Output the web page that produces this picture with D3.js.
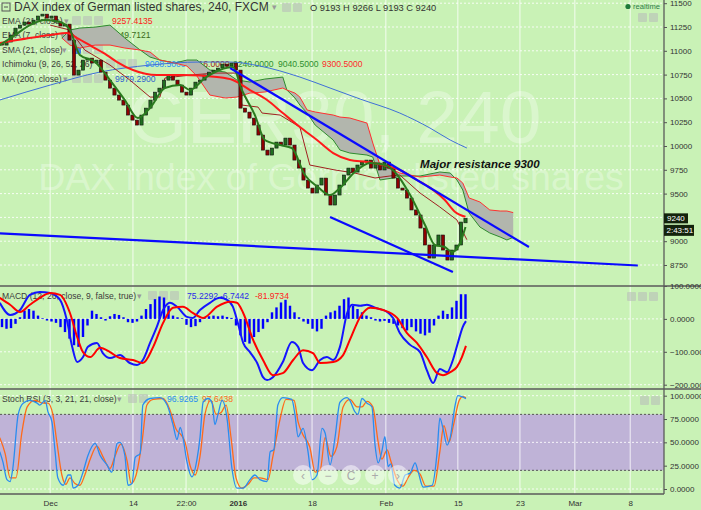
<!DOCTYPE html>
<html><head><meta charset="utf-8">
<script src="https://cdn.jsdelivr.net/npm/d3@7/dist/d3.min.js"></script>
<style>
html,body{margin:0;padding:0;background:#c9f2b6;overflow:hidden;}
svg{display:block;font-family:"Liberation Sans",Arial,sans-serif;}
</style></head><body>
<svg id="chart" width="701" height="510"></svg>
<script>
// ---------------- DATA ----------------
const closes = [11060,11092,11165,11238,11270,11302,11280,11322,11365,11385,
11343,11365,11302,11260,11280,11112,10745,10797,10902,10923,
10871,10902,10776,10692,10608,10535,10482,10430,10325,10272,
10220,10325,10398,10482,10566,10608,10692,10745,10692,10640,
10566,10535,10608,10671,10692,10745,10776,10797,10818,10860,
10839,10871,10797,10398,10356,10293,10220,10115,9957,9905,
9978,10041,10010,10083,10010,9852,9768,9642,9558,9506,
9590,9663,9485,9380,9485,9590,9695,9768,9726,9800,
9831,9852,9768,9821,9748,9831,9768,9663,9558,9537,
9453,9328,9275,9138,8960,8823,8960,9065,8907,8802,
8907,8960,9201,9240];
const opens = [11075,11060,11092,11165,11238,11270,11302,11280,11322,11365,
11385,11343,11365,11302,11260,11280,11112,10745,10797,10902,
10923,10871,10902,10776,10692,10608,10535,10482,10430,10325,
10272,10220,10325,10398,10482,10566,10608,10692,10745,10692,
10640,10566,10535,10608,10671,10692,10745,10776,10797,10818,
10860,10839,10871,10797,10398,10356,10293,10220,10115,9957,
9905,9978,10041,10010,10083,10010,9852,9768,9642,9558,
9506,9590,9663,9485,9380,9485,9590,9695,9768,9726,
9800,9831,9852,9768,9821,9748,9831,9768,9663,9558,
9537,9453,9328,9275,9138,8960,8823,8960,9065,8907,
8802,8907,8960,9193];

const timeTickLabels = ["Dec","14","22:00","2016","18","Feb","15","23","Mar","8"];
const timeTickIndex  = [10.7,29.1,40.9,52.4,68.9,85.3,101.3,115.1,127.3,139.6];
const priceGrid = [8750,9000,9250,9500,9750,10000,10250,10500,10750,11000,11250,11500];
const priceTicks = [8750,9000,9500,9750,10000,10250,10500,10750,11000,11250,11500];
const macdTicks = [100,0,-100,-200];
const rsiTicks = [100,75,50,25,0];

// [bar index, value]
const ema21 = [[-0.5,11081],[10.7,11165],[14.4,11186],[16.7,11134],[20.2,11039],[23.3,10955],[25.6,10882],[29.1,10798],[34.4,10745],[40.2,10745],[47.8,10724],[51.3,10693],[55.1,10588],[58.9,10483],[62.4,10346],[66.2,10199],[70,10063],[73.6,9926],[77.3,9853],[81.1,9832],[84.7,9800],[88.4,9748],[92.2,9643],[95.8,9538],[98.4,9433],[100.7,9307],[103,9257]];
const ema7 = [[-0.5,11060],[2.9,11165],[6.2,11270],[9.6,11323],[12.9,11302],[15.1,11218],[17.3,10955],[20.7,10882],[24,10693],[27.3,10483],[30.2,10294],[32.9,10399],[36.2,10609],[39.6,10640],[41.8,10588],[45.1,10714],[48.4,10798],[51.3,10829],[53.3,10588],[56.2,10325],[58.4,10063],[61.8,10010],[64.4,9979],[67.3,9695],[70.2,9569],[72.9,9485],[75.1,9559],[78.4,9727],[81.8,9821],[85.1,9800],[87.3,9727],[90.7,9485],[94,9170],[96.2,8960],[98.4,8939],[100,8887],[101.8,8981],[103,9150]];
const ma200 = [[-0.5,10483],[10.7,10640],[21.8,10777],[32.9,10850],[44,10882],[50.7,10882],[57.3,10840],[66.2,10724],[72.9,10609],[79.6,10493],[88.4,10346],[95.1,10189],[99.6,10063],[103.3,9979]];
const baseLine = [[10.7,11270],[15.1,11218],[18.4,11008],[24,10850],[28.4,10693],[32.9,10514],[35.1,10514],[36.2,10714],[41.8,10745],[47.3,10766],[52.4,10766],[53.3,10430],[56.9,10409],[57.8,10346],[61.8,10325],[66.2,10199],[68.4,9800],[74,9748],[78.4,9716],[82.9,9664],[86.2,9685],[88.4,9695],[92.9,9506],[97.3,9359],[101.1,9223],[103.3,9016]];
const cloudT = [13.3,15.1,17.3,20.7,24,27.3,30.7,32.9,35.1,38.4,41.1,43.3,46.2,49.6,52.2,55.1,58.4,62.4,63.3,65.1,66.2,67.8,69.6,73.6,75.1,77.3,81.1,82.4,84,86.9,88.4,92.9,97.3,99.6,101.1,102.4,103.8,106.2,108.4,110.7,112.2,113.6];
const spanA = [11134,11218,11239,11249,11270,11134,11008,10934,10903,10871,10903,10903,10798,10777,10693,10672,10703,10724,10588,10504,10430,10346,10220,10063,9958,9926,9905,9884,9643,9664,9685,9685,9727,9716,9643,9538,9296,9149,9086,9044,9013,9040.5];
const spanB = [11134,11060,11029,11060,11060,11029,11008,10987,10903,10871,10840,10735,10535,10504,10514,10556,10567,10609,10588,10556,10514,10378,10357,10325,10304,10294,10241,10031,9800,9748,9716,9674,9695,9674,9664,9611,9454,9412,9328,9317,9317,9300.5];
const trendStart = [[50.7,10818],[72.9,9254],[-0.5,9083]];
const trendEnd   = [[117.1,8939],[100.2,8676],[141.3,8745]];

const macdLine = [[-0.5,49],[1.8,12],[4,27],[6.2,73],[8.4,82],[10.7,79],[12.9,58],[14.4,-3],[15.6,-85],[16.7,-131],[18,-116],[19.1,-85],[21.1,-73],[22.4,-104],[24,-119],[26.2,-110],[28.4,-134],[30,-140],[31.3,-125],[32.9,-73],[34.4,-24],[35.8,27],[37.3,49],[38.9,37],[41.1,6],[42.4,3],[44,27],[46.2,49],[48.4,64],[50,58],[51.3,37],[52.4,-12],[53.6,-73],[55.1,-101],[56.7,-134],[58,-177],[58.9,-186],[60.2,-177],[62.4,-131],[64.4,-70],[65.8,-85],[66.9,-134],[68.9,-156],[70.7,-125],[72.2,-116],[73.6,-125],[75.1,-85],[76.7,18],[77.8,43],[79.6,40],[81.1,43],[82.9,34],[85.6,21],[86.9,3],[88.4,-43],[90.7,-79],[92.9,-101],[94.4,-156],[95.8,-195],[97.3,-152],[98.9,-162],[100.2,-125],[101.3,-73],[102.4,-24],[103.1,-6.7]];
const signalLine = [[-0.5,64],[1.8,43],[4,21],[6.2,43],[8.4,64],[10.7,79],[12.9,73],[15.1,18],[16.7,-55],[18,-101],[19.6,-116],[21.8,-88],[24,-101],[26.2,-119],[29.1,-125],[31.3,-134],[33.6,-85],[35.8,-12],[38,34],[40.2,37],[42.4,18],[44.7,3],[47.8,37],[50.7,52],[52.2,49],[53.6,18],[55.8,-64],[58,-125],[60.2,-171],[62.4,-165],[64.7,-125],[66.9,-95],[69.1,-104],[70.7,-134],[73.6,-131],[75.8,-110],[77.3,-64],[79.6,6],[81.8,34],[84.7,27],[87.8,3],[90,-43],[92.2,-73],[94.4,-116],[96.7,-165],[98,-171],[99.6,-162],[101.1,-146],[102.2,-116],[103.1,-82]];
const macdHist = [-25,-30,-28,-15,5,25,30,25,10,2,
-5,-8,-12,-25,-40,-60,-80,-85,-55,-20,
25,15,5,-5,8,15,12,5,-10,-12,
-8,10,30,45,60,68,65,40,10,5,
2,-18,-25,-22,-10,5,8,10,8,10,
6,3,-20,-50,-70,-75,-55,-40,-30,-10,
20,35,50,58,40,20,5,-8,-15,-30,
-38,-30,10,20,25,40,60,65,40,30,
20,10,5,-5,-8,-6,-12,-15,-20,-28,
-35,-25,-38,-45,-50,-42,-20,10,25,15,
35,55,75,75];

const stochK = [[-0.5,40],[0.2,29],[1.1,10],[1.8,8],[2.4,22],[3.6,80],[4.7,92],[6.2,95],[7.8,92],[8.4,90],[9.6,95],[10.2,83],[11.1,72],[11.8,40],[12.4,12],[13.6,4],[14.7,15],[15.3,15],[15.8,1],[16.9,4],[18,18],[19.1,36],[20.7,49],[21.8,36],[23.3,26],[24.4,18],[25.6,49],[26.2,50],[27.3,36],[28,4],[28.9,6],[29.6,34],[30.7,38],[31.3,90],[32.9,97],[35.1,98],[36.7,90],[38,69],[38.9,53],[39.6,66],[40.2,56],[41.1,29],[42.2,13],[43.3,31],[44,55],[44.7,93],[45.8,97],[46.7,92],[47.3,69],[48,80],[48.9,95],[50,76],[51.1,22],[52.2,1],[53.6,1],[55.1,10],[56.2,15],[57.3,10],[58.9,8],[59.6,40],[60.4,42],[61.3,90],[62.4,98],[64.4,96],[65.1,80],[65.8,56],[66.9,65],[68,40],[68.9,10],[70,15],[71.1,65],[71.8,60],[72.9,26],[74,55],[75.1,93],[76.7,98],[77.3,95],[78.4,83],[79.1,80],[80,97],[81.1,92],[82.2,88],[82.9,47],[83.6,28],[84.4,40],[85.1,56],[85.8,24],[86.4,27],[87.3,4],[88.4,1],[89.6,15],[90.7,17],[91.8,28],[92.4,20],[93.6,2],[95.6,4],[96.7,40],[97.3,76],[98,65],[98.9,47],[99.6,55],[100.7,90],[101.3,100],[102.2,99],[103.1,96.93]];
const stochD = [[-0.5,55],[0.7,38],[1.8,12],[3.1,12],[4.4,60],[5.6,88],[7.3,95],[9.1,92],[10.2,92],[11.3,80],[12.2,50],[13.3,15],[14.2,5],[15.1,12],[16.2,6],[17.3,4],[18.4,15],[19.6,32],[21.1,46],[22.4,35],[24,22],[25.1,35],[26.4,48],[27.8,30],[28.7,6],[29.8,15],[31.1,50],[32.2,90],[33.6,96],[35.8,97],[37.3,85],[38.7,64],[39.8,58],[40.7,50],[41.8,25],[42.9,15],[44,35],[45.1,80],[46.4,95],[47.6,80],[48.7,82],[49.8,90],[50.9,55],[52,12],[53.3,1],[54.7,5],[56,12],[57.3,12],[59.1,10],[60.2,35],[61.8,75],[63.1,96],[64.9,95],[65.8,72],[66.9,58],[68.4,45],[69.6,18],[70.7,20],[71.8,55],[73.1,35],[74.4,45],[75.8,88],[77.3,96],[78.9,88],[80,88],[81.1,94],[82.4,88],[83.6,50],[84.4,32],[85.6,42],[86.4,30],[87.8,10],[89.1,3],[90.2,12],[91.6,20],[92.9,16],[94.2,3],[96,3],[97.3,40],[98.2,68],[99.3,50],[100.4,70],[101.6,95],[102.4,99],[103.1,97.64]];

// ---------------- LAYOUT ----------------
const W = 701, H = 510, AX = 664;
const MAIN_B = 286, MACD_B = 389, RSI_B = 494;
const svg = d3.select("#chart");
const xS = d3.scaleLinear().domain([0, 147]).range([2, 663.5]);
const yP = d3.scaleLinear().domain([8750, 11500]).range([265, 3.2]);
const yM = d3.scaleLinear().domain([-200, 100]).range([384.7, 286]);
const yR = d3.scaleLinear().domain([0, 100]).range([489, 395.7]);

svg.append("rect").attr("width", W).attr("height", H).attr("fill", "#c9f2b6");
const defs = svg.append("defs");
defs.append("clipPath").attr("id", "cMain").append("rect").attr("x", 0).attr("y", 0).attr("width", AX).attr("height", MAIN_B);
defs.append("clipPath").attr("id", "cMacd").append("rect").attr("x", 0).attr("y", MAIN_B).attr("width", AX).attr("height", MACD_B - MAIN_B);
defs.append("clipPath").attr("id", "cRsi").append("rect").attr("x", 0).attr("y", MACD_B).attr("width", AX).attr("height", RSI_B - MACD_B);

// RSI band
svg.append("rect").attr("x", 0).attr("width", AX).attr("y", yR(80)).attr("height", yR(20) - yR(80)).attr("fill", "#bfb3d7");

// vertical grid
svg.append("g").selectAll("line").data(timeTickIndex).join("line")
  .attr("x1", d => xS(d)).attr("x2", d => xS(d)).attr("y1", 0).attr("y2", RSI_B)
  .attr("stroke", "rgba(255,255,255,0.8)").attr("stroke-width", 1);
// horizontal grids
const hg = svg.append("g").attr("stroke", "rgba(255,255,255,0.85)").attr("stroke-dasharray", "2,2");
hg.selectAll(".p").data(priceGrid).join("line").attr("class","p").attr("x1", 0).attr("x2", AX).attr("y1", d => yP(d)).attr("y2", d => yP(d));
hg.selectAll(".m").data(macdTicks.slice(1)).join("line").attr("class","m").attr("x1", 0).attr("x2", AX).attr("y1", d => yM(d)).attr("y2", d => yM(d));
hg.selectAll(".r").data([100, 50, 0]).join("line").attr("class","r").attr("x1", 0).attr("x2", AX).attr("y1", d => yR(d)).attr("y2", d => yR(d));
svg.append("g").selectAll("line").data([80, 20]).join("line")
  .attr("x1", 0).attr("x2", AX).attr("y1", d => yR(d)).attr("y2", d => yR(d))
  .attr("stroke", "#555").attr("stroke-dasharray", "2,2");

// watermark
const wm = svg.append("g").attr("fill", "rgba(255,255,255,0.32)").attr("text-anchor", "middle").attr("clip-path", "url(#cMain)");
wm.append("text").attr("x", 335).attr("y", 143).attr("font-size", 75).text("GER30, 240");
wm.append("text").attr("x", 331).attr("y", 190).attr("font-size", 37.5).text("DAX index of German listed shares");

// ---------- legends ----------
function icons(g, x, y, n, first) {
  for (let k = 0; k < n; k++) {
    g.append("rect").attr("x", x + k * 11).attr("y", y).attr("width", 9).attr("height", 9).attr("rx", 1)
      .attr("fill", (k === 0 && first) ? first : "rgba(185,190,185,0.6)");
  }
}
const lg = svg.append("g").attr("font-size", 8.6).attr("fill", "#3c3c3c");
lg.append("rect").attr("x", 2).attr("y", 3).attr("width", 8).attr("height", 8).attr("fill", "none").attr("stroke", "#555");
lg.append("line").attr("x1", 4).attr("x2", 8).attr("y1", 7).attr("y2", 7).attr("stroke", "#555");
lg.append("text").attr("x", 14).attr("y", 11).attr("font-size", 12).attr("fill", "#333").text("DAX index of German listed shares, 240, FXCM");
lg.append("text").attr("x", 272).attr("y", 10).attr("fill", "#999").text("▾");
icons(lg, 282, 3, 2);
lg.append("text").attr("x", 310).attr("y", 11).attr("font-size", 9.3).attr("fill", "#333").text("O 9193 H 9266 L 9193 C 9240");

const rows = [
  {name: "EMA (21, close)", y: 24, arrow: 64, ic: 72, vals: [["9257.4135", "#ff2020", 112]]},
  {name: "EMA (7, close)", y: 38, arrow: 60, ic: 72, vals: [["9149.7121", "#3a6b1a", 110]]},
  {name: "SMA (21, close)", y: 53, arrow: 62, ic: 72, first: "#3f7fe0", vals: []},
  {name: "Ichimoku (9, 26, 52, 26)", y: 67, arrow: 97, ic: 106, vals: [["9008.5000", "#2b8fff", 145], ["9016.0000", "#a01818", 189], ["9240.0000", "#2e8f2e", 233], ["9040.5000", "#2e8f2e", 278], ["9300.5000", "#ff2a2a", 322]]},
  {name: "MA (200, close)", y: 82, arrow: 63, ic: 72, vals: [["9979.2900", "#2f5fd0", 115]]}
];
rows.forEach(r => {
  lg.append("text").attr("x", 2).attr("y", r.y).text(r.name);
  lg.append("text").attr("x", r.arrow).attr("y", r.y).attr("fill", "#999").text("▾");
  icons(lg, r.ic, r.y - 8, 3, r.first);
  r.vals.forEach(v => lg.append("text").attr("x", v[2]).attr("y", r.y).attr("fill", v[1]).text(v[0]));
});

// MACD legend
lg.append("text").attr("x", 2).attr("y", 299).text("MACD (12, 26, close, 9, false, true)");
lg.append("text").attr("x", 137).attr("y", 299).attr("fill", "#999").text("▾");
icons(lg, 148, 291, 3);
lg.append("text").attr("x", 187).attr("y", 299).attr("fill", "#2a2ae8").text("75.2292");
lg.append("text").attr("x", 220).attr("y", 299).attr("fill", "#2a2ae8").text("-6.7442");
lg.append("text").attr("x", 255).attr("y", 299).attr("fill", "#ff2020").text("-81.9734");
// Stoch legend
lg.append("text").attr("x", 2).attr("y", 402).text("Stoch RSI (3, 3, 21, 21, close)");
lg.append("text").attr("x", 117).attr("y", 402).attr("fill", "#999").text("▾");
icons(lg, 128, 394, 2);
lg.append("text").attr("x", 167).attr("y", 402).attr("fill", "#2a8cf0").text("96.9265");
lg.append("text").attr("x", 202).attr("y", 402).attr("fill", "#ff6a1a").text("97.6438");

// ---------- main series ----------
const main = svg.append("g").attr("clip-path", "url(#cMain)");
const lineP = d3.line().x(d => xS(d[0])).y(d => yP(d[1])).curve(d3.curveMonotoneX);
const cloudData = cloudT.map((t, i) => [t, spanA[i], spanB[i]]);
main.append("path").datum(cloudData)
  .attr("d", d3.area().x(d => xS(d[0])).y0(d => yP(d[2])).y1(d => yP(d[1])))
  .attr("fill", "#b2b6ad");
main.append("path").datum(cloudData).attr("d", d3.line().x(d => xS(d[0])).y(d => yP(d[1])))
  .attr("fill", "none").attr("stroke", "#2e8b2e").attr("stroke-width", 1);
main.append("path").datum(cloudData).attr("d", d3.line().x(d => xS(d[0])).y(d => yP(d[2])))
  .attr("fill", "none").attr("stroke", "#ff3030").attr("stroke-width", 1);
main.append("path").datum(ma200).attr("d", lineP).attr("fill", "none").attr("stroke", "#3f6fd8").attr("stroke-width", 1);
main.append("path").datum(baseLine).attr("d", d3.line().x(d => xS(d[0])).y(d => yP(d[1])))
  .attr("fill", "none").attr("stroke", "#a02020").attr("stroke-width", 1);

// candles
const candles = closes.map((c, i) => ({i, o: opens[i], c}));
main.append("g").selectAll("rect").data(candles).join("rect")
  .attr("x", d => xS(d.i) - 1.6).attr("width", 3.2)
  .attr("y", d => yP(Math.max(d.o, d.c)))
  .attr("height", d => Math.max(1, Math.abs(yP(d.o) - yP(d.c))))
  .attr("fill", d => d.c >= d.o ? "#1f6e1f" : "#8e0000")
  .attr("stroke", "#111").attr("stroke-width", 0.6);

main.append("path").datum(ema21).attr("d", lineP).attr("fill", "none").attr("stroke", "#ff1a1a").attr("stroke-width", 2);
main.append("path").datum(ema7).attr("d", lineP).attr("fill", "none").attr("stroke", "#2a7a1e").attr("stroke-width", 2);

// trendlines
main.append("g").selectAll("line").data(trendStart).join("line")
  .attr("x1", d => xS(d[0])).attr("y1", d => yP(d[1]))
  .attr("x2", (d, i) => xS(trendEnd[i][0])).attr("y2", (d, i) => yP(trendEnd[i][1]))
  .attr("stroke", "#0a0aff").attr("stroke-width", 2.2);

main.append("text").attr("x", xS(92.9)).attr("y", yP(9765))
  .attr("font-size", 11.5).attr("font-weight", "bold").attr("font-style", "italic").attr("fill", "#111")
  .text("Major resistance 9300");

// ---------- MACD ----------
const macd = svg.append("g").attr("clip-path", "url(#cMacd)");
macd.append("g").selectAll("rect").data(macdHist).join("rect")
  .attr("x", (d, i) => xS(i) - 1.2).attr("width", 2.4)
  .attr("y", d => d >= 0 ? yM(d) : yM(0))
  .attr("height", d => Math.abs(yM(d) - yM(0)))
  .attr("fill", "#0000ff");
const lineM = d3.line().x(d => xS(d[0])).y(d => yM(d[1])).curve(d3.curveMonotoneX);
macd.append("path").datum(macdLine).attr("d", lineM).attr("fill", "none").attr("stroke", "#1414ff").attr("stroke-width", 2);
macd.append("path").datum(signalLine).attr("d", lineM).attr("fill", "none").attr("stroke", "#ff0000").attr("stroke-width", 2);

// ---------- Stoch RSI ----------
const rsi = svg.append("g").attr("clip-path", "url(#cRsi)");
const lineR = d3.line().x(d => xS(d[0])).y(d => yR(d[1])).curve(d3.curveMonotoneX);
rsi.append("path").datum(stochD).attr("d", lineR).attr("fill", "none").attr("stroke", "#ff6a1a").attr("stroke-width", 1.3);
rsi.append("path").datum(stochK).attr("d", lineR).attr("fill", "none").attr("stroke", "#2a8cf0").attr("stroke-width", 1.3);

// nav buttons
const nav = svg.append("g");
[["‹", 303], ["−", 328], ["C", 351], ["+", 375], ["›", 398]].forEach(b => {
  nav.append("circle").attr("cx", b[1]).attr("cy", 475).attr("r", 10).attr("fill", "rgba(255,255,255,0.5)");
  nav.append("text").attr("x", b[1]).attr("y", 479.5).attr("text-anchor", "middle").attr("font-size", 12).attr("fill", "#aaa").text(b[0]);
});

// ---------- separators & axes ----------
svg.append("g").attr("stroke", "#5a5a5a").attr("stroke-width", 1.3).selectAll("line")
  .data([MAIN_B, MACD_B]).join("line").attr("x1", 0).attr("x2", W).attr("y1", d => d).attr("y2", d => d);
svg.append("line").attr("x1", 0).attr("x2", AX).attr("y1", RSI_B).attr("y2", RSI_B).attr("stroke", "#5a5a5a").attr("stroke-width", 1.3);
svg.append("line").attr("x1", AX).attr("x2", AX).attr("y1", 0).attr("y2", RSI_B).attr("stroke", "#5a5a5a").attr("stroke-width", 1.3);

function styleAxis(g) {
  g.select(".domain").remove();
  g.selectAll(".tick line").attr("stroke", "#555");
  g.selectAll(".tick text").attr("fill", "#333").attr("font-size", 8).attr("font-family", "Liberation Sans, Arial, sans-serif");
}
svg.append("g").attr("transform", `translate(${AX},0)`)
  .call(d3.axisRight(yP).tickValues(priceTicks).tickSize(3).tickPadding(3).tickFormat(d => d)).call(styleAxis);
svg.append("g").attr("transform", `translate(${AX},0)`)
  .call(d3.axisRight(yM).tickValues(macdTicks).tickSize(3).tickPadding(3).tickFormat(d3.format(".4f"))).call(styleAxis);
svg.append("g").attr("transform", `translate(${AX},0)`)
  .call(d3.axisRight(yR).tickValues(rsiTicks).tickSize(3).tickPadding(3).tickFormat(d3.format(".4f"))).call(styleAxis);
const xa = svg.append("g").attr("transform", `translate(0,${RSI_B})`)
  .call(d3.axisBottom(xS).tickValues(timeTickIndex).tickSize(0).tickPadding(6).tickFormat((d, i) => timeTickLabels[i]));
styleAxis(xa);
xa.selectAll(".tick text").attr("font-weight", (d, i) => timeTickLabels[i] === "2016" ? "bold" : "normal");

// price label boxes
svg.append("rect").attr("x", AX).attr("y", yP(9240) - 5).attr("width", 24).attr("height", 10).attr("fill", "#13230c");
svg.append("text").attr("x", AX + 3).attr("y", yP(9240) + 3).attr("font-size", 8).attr("fill", "#fff").text("9240");
svg.append("rect").attr("x", AX).attr("y", yP(9240) + 6.5).attr("width", 30).attr("height", 11).attr("fill", "#13230c");
svg.append("text").attr("x", AX + 2.5).attr("y", yP(9240) + 15).attr("font-size", 8).attr("fill", "#fff").text("2:43:51");

// realtime & panel icons
svg.append("circle").attr("cx", 628).attr("cy", 6.5).attr("r", 2.6).attr("fill", "#1c7a3a");
svg.append("text").attr("x", 633).attr("y", 9).attr("font-size", 7.6).attr("fill", "#2e7d4a").text("realtime");
icons(svg, 638, 13, 2);
icons(svg, 627, 292, 3);
icons(svg, 640, 396, 2);
</script>
</body></html>
